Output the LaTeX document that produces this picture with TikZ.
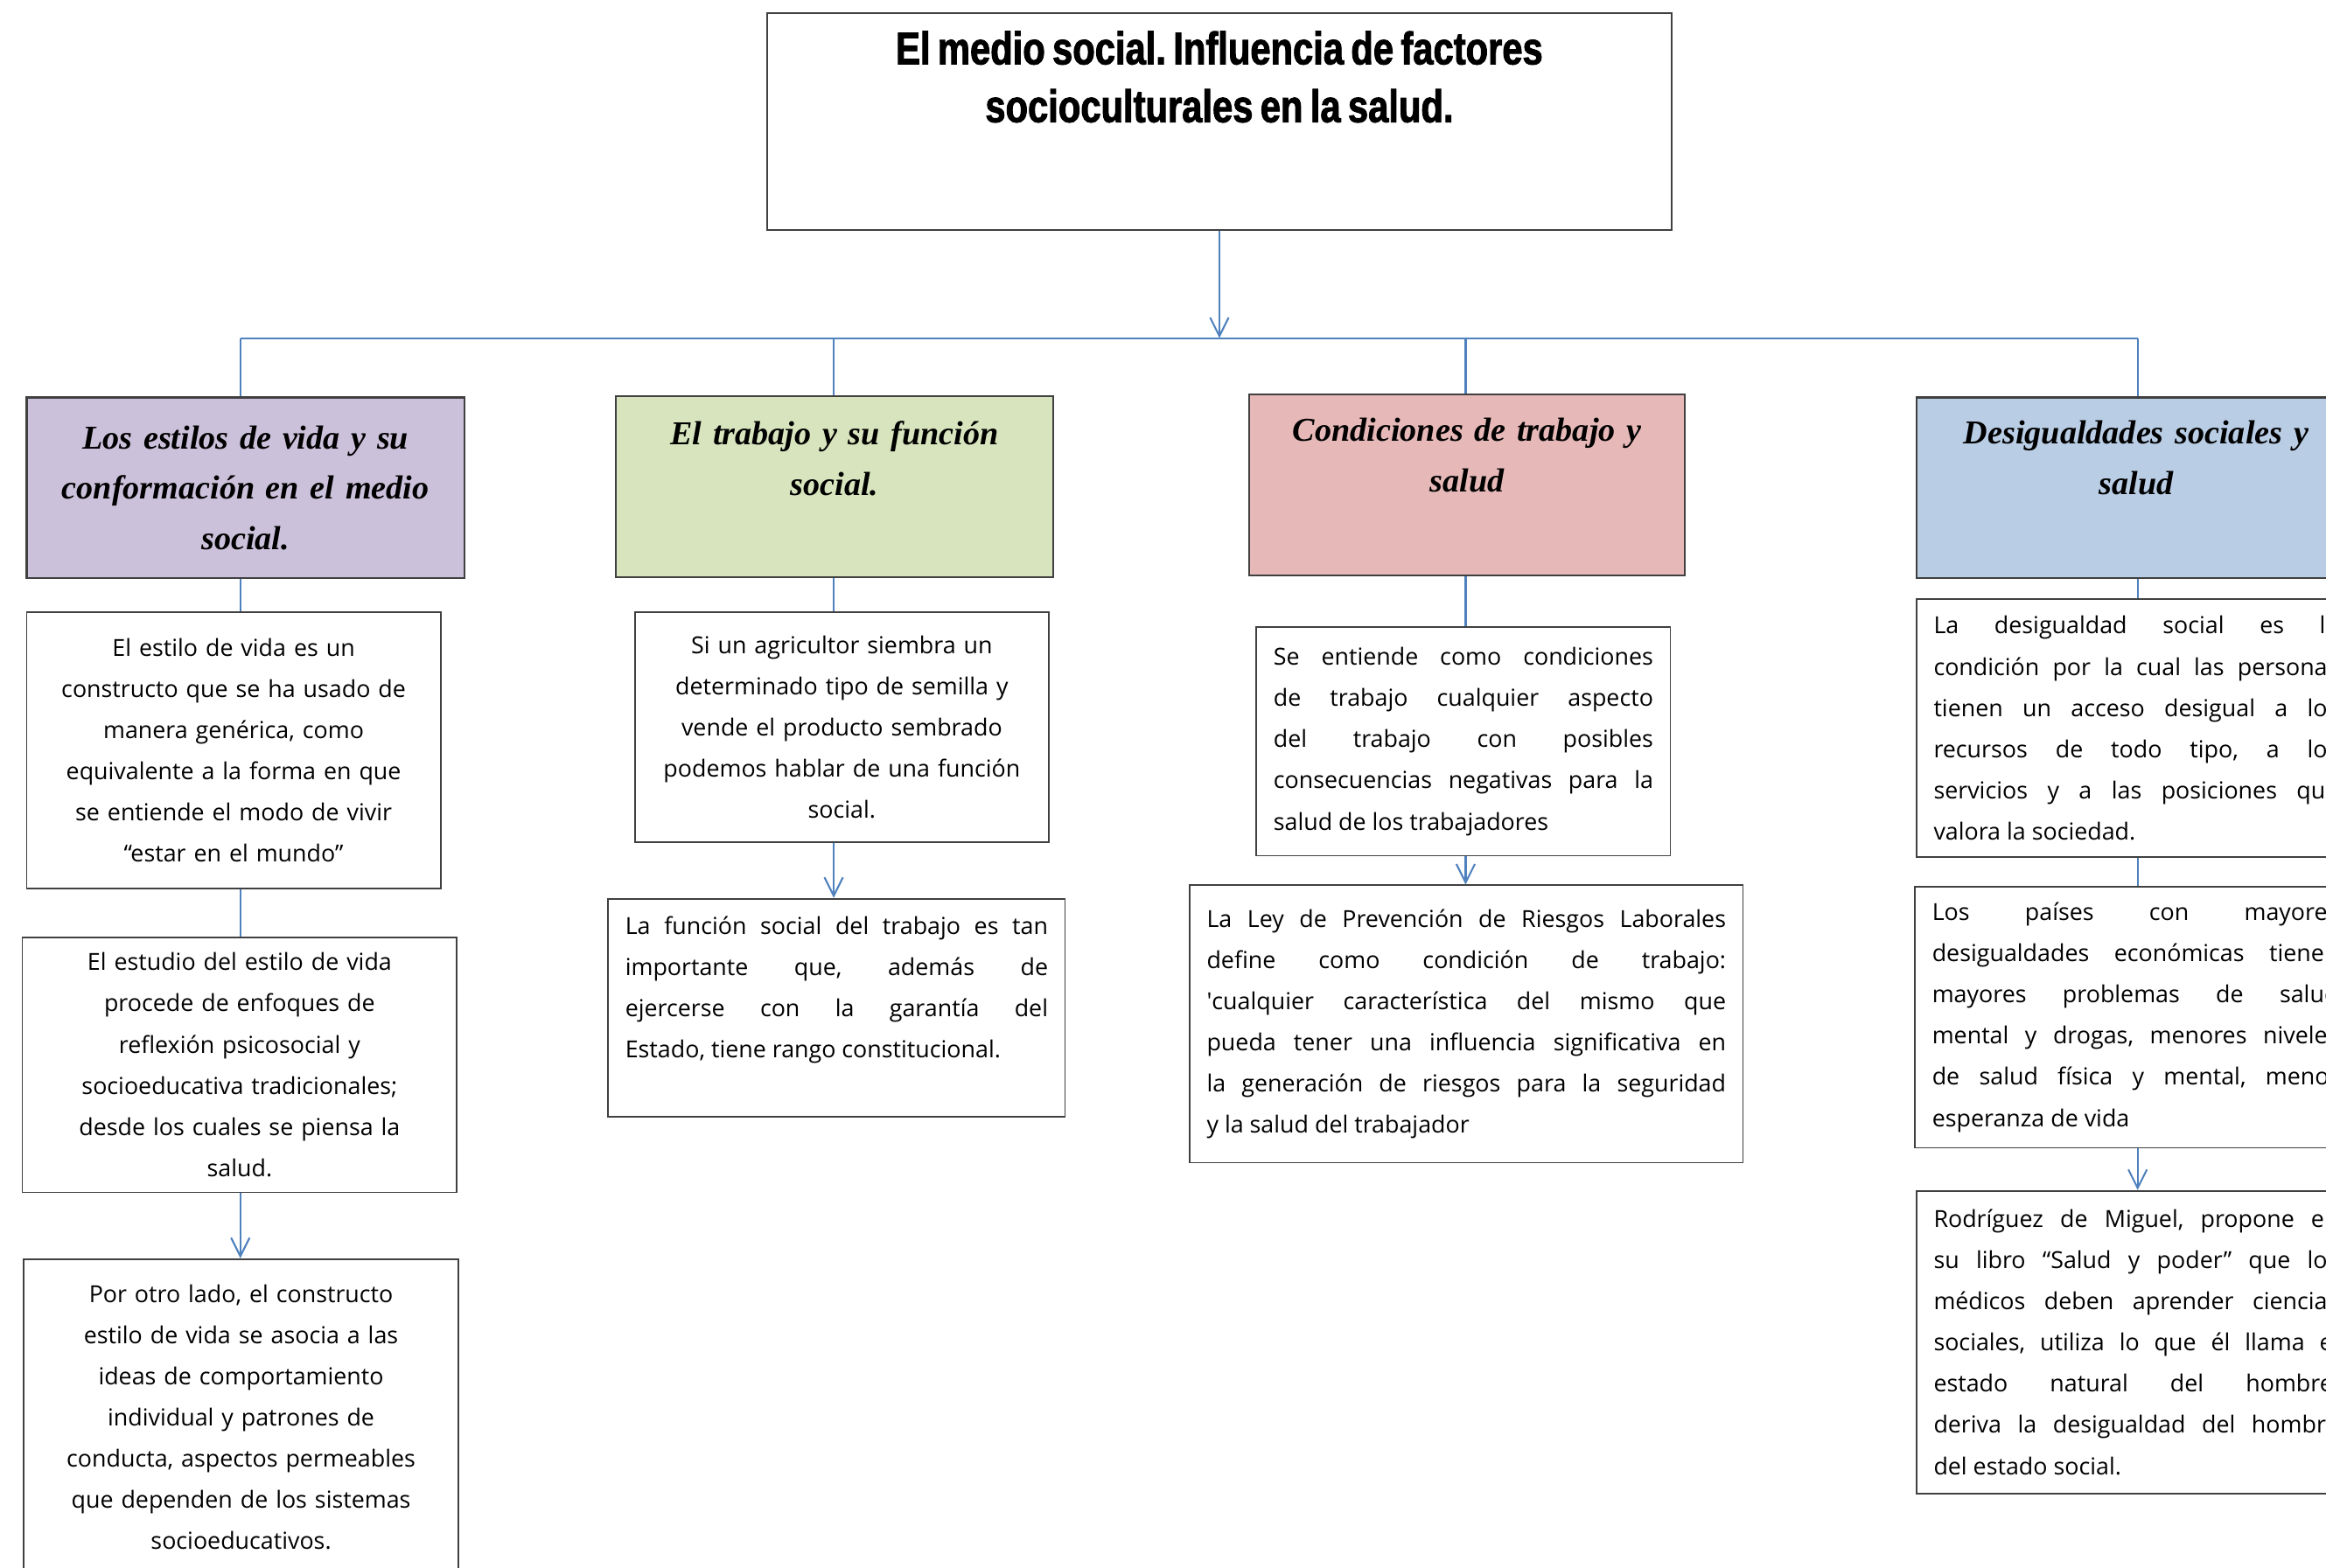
\documentclass[tikz,border=0pt]{standalone}
\usepackage{fontspec}
\setmainfont{Open Sans}
\newfontfamily\headfont{Liberation Serif}
\newfontfamily\titlefont[FakeStretch=0.8,FakeBold=1.8]{Liberation Sans}
\usetikzlibrary{arrows.meta}
\definecolor{lilac}{HTML}{CCC1DA}
\definecolor{sage}{HTML}{D7E4BD}
\definecolor{rose}{HTML}{E6B9B8}
\definecolor{sky}{HTML}{B9CDE5}
\definecolor{link}{HTML}{4F81BD}
\definecolor{frame}{HTML}{404040}
\setlength\parindent{0pt}
\frenchspacing

\begin{document}
\begin{tikzpicture}[>={Straight Barb[length=2.5mm,width=2.5mm]},
  every edge/.style={draw,link,line width=0.7pt},
  title node/.style={draw=frame,line width=0.6pt,minimum width=12.2cm,minimum height=2.92cm,
    text width=11.8cm,align=center,font=\titlefont\bfseries\fontsize{17.5}{22.2}\selectfont},
  head node/.style={draw=frame,line width=0.7pt,minimum height=2.44cm,text width=5.5cm,
    align=center,font=\headfont\bfseries\itshape\fontsize{12.8}{19.4}\selectfont},
  text node/.style={draw=frame,line width=0.6pt,inner xsep=0.23cm,align=center,
    font=\fontsize{9}{15.8}\selectfont},
  just node/.style={text node,align=justify}]
  \fill[white] (0,0) rectangle (31.36,-21.14);
  \useasboundingbox (0,0) rectangle (31.36,-21.14);

  \node[title node] (t) at (16.44,-1.64) {\spaceskip=0.16em\relax El medio social. Influencia de factores\\socioculturales en la salud.\\\rule{0pt}{1.17cm}};

  \coordinate (bus) at (16.44,-4.56);
  \coordinate (x1) at (3.24,-4.56);
  \coordinate (x2) at (11.24,-4.56);
  \coordinate (x3) at (19.76,-4.56);
  \coordinate (x4) at (28.82,-4.56);

  \node[head node, fill=lilac, minimum width=5.9cm] (h1) at (3.31,-6.58) {Los estilos de vida y su\\conformación en el medio\\social.};
  \node[head node, fill=sage, minimum width=5.9cm] (h2) at (11.25,-6.56) {El trabajo y su función\\social.\\\rule{0pt}{0.72cm}};
  \node[head node, fill=rose, minimum width=5.88cm] (h3) at (19.78,-6.54) {Condiciones de trabajo y\\salud\\\rule{0pt}{0.76cm}};
  \node[head node, fill=sky, minimum width=5.92cm] (h4) at (28.80,-6.58) {Desigualdades sociales y\\salud\\\rule{0pt}{0.78cm}};

  \node[text node, text width=5.12cm, minimum height=3.72cm] (a1) at (3.15,-10.12) {El estilo de vida es un\\constructo que se ha usado de\\manera genérica, como\\equivalente a la forma en que\\se entiende el modo de vivir\\“estar en el mundo”};
  \node[text node, text width=5.40cm, minimum height=3.44cm] (a2) at (3.23,-14.36) {El estudio del estilo de vida\\procede de enfoques de\\reflexión psicosocial y\\socioeducativa tradicionales;\\desde los cuales se piensa la\\salud.};
  \node[text node, text width=5.40cm, minimum height=4.26cm] (a3) at (3.25,-19.11) {Por otro lado, el constructo\\estilo de vida se asocia a las\\ideas de comportamiento\\individual y patrones de\\conducta, aspectos permeables\\que dependen de los sistemas\\socioeducativos.};

  \node[text node, text width=5.12cm, minimum height=3.10cm] (b1) at (11.35,-9.81) {Si un agricultor siembra un\\determinado tipo de semilla y\\vende el producto sembrado\\podemos hablar de una función\\social.};
  \node[just node, text width=5.70cm, minimum height=2.94cm] (b2) at (11.28,-13.59) {La función social del trabajo es tan\linebreak importante que, además de\linebreak ejercerse con la garantía del\linebreak Estado, tiene rango constitucional.\\\mbox{}};

  \node[just node, text width=5.12cm, minimum height=3.08cm] (c1) at (19.73,-10.00) {Se entiende como condiciones\linebreak de trabajo cualquier aspecto\linebreak del trabajo con posibles\linebreak consecuencias negativas para la\linebreak salud de los trabajadores};
  \node[just node, text width=7.00cm, minimum height=3.74cm] (c2) at (19.77,-13.81) {La Ley de Prevención de Riesgos Laborales\linebreak define como condición de trabajo:\linebreak \textquotesingle cualquier característica del mismo que\linebreak pueda tener una influencia significativa en\linebreak la generación de riesgos para la seguridad\linebreak y la salud del trabajador};

  \node[just node, text width=5.46cm, minimum height=3.48cm] (d1) at (28.80,-9.82) {La desigualdad social es la\linebreak condición por la cual las personas\linebreak tienen un acceso desigual a los\linebreak recursos de todo tipo, a los\linebreak servicios y a las posiciones que\linebreak valora la sociedad.};
  \node[just node, text width=5.48cm, minimum height=3.52cm] (d2) at (28.79,-13.72) {Los países con mayores\linebreak desigualdades económicas tienen\linebreak mayores problemas de salud\linebreak mental y drogas, menores niveles\linebreak de salud física y mental, menor\linebreak esperanza de vida};
  \node[just node, text width=5.46cm, minimum height=4.08cm] (d3) at (28.80,-18.10) {Rodríguez de Miguel, propone en\linebreak su libro “Salud y poder” que los\linebreak médicos deben aprender ciencias\linebreak sociales, utiliza lo que él llama el\linebreak estado natural del hombre,\linebreak deriva la desigualdad del hombre\linebreak del estado social.};

  \path (t) edge[->] (bus)
    (x1) edge (x4)
    (x1) edge (h1.north -| x1)
    (x2) edge (h2.north -| x2)
    (x3) edge (h3.north -| x3)
    (x4) edge (h4.north -| x4)
    (h1.south -| x1) edge (a1.north -| x1)
    (a1.south -| x1) edge (a2.north -| x1)
    (a2.south -| x1) edge[->] (a3.north -| x1)
    (h2.south -| x2) edge (b1.north -| x2)
    (b1.south -| x2) edge[->] (b2.north -| x2)
    (h3.south -| x3) edge (c1.north -| x3)
    (c1.south -| x3) edge[->] (c2.north -| x3)
    (h4.south -| x4) edge (d1.north -| x4)
    (d1.south -| x4) edge (d2.north -| x4)
    (d2.south -| x4) edge[->] (d3.north -| x4);
\end{tikzpicture}
\end{document}
